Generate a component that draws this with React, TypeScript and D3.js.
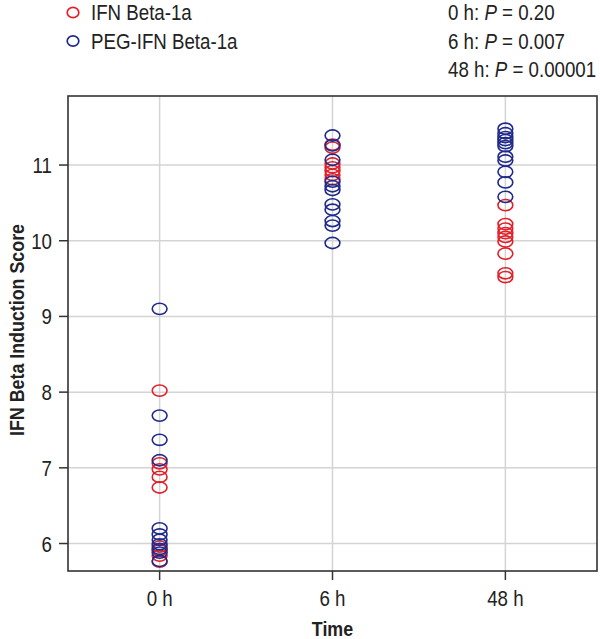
import React from "react";
import * as d3 from "d3";

const categories = ["0 h", "6 h", "48 h"];
const yTicks = [6, 7, 8, 9, 10, 11];

const ifn0 = [8.02, 7.06, 6.98, 6.88, 6.74, 5.96, 5.91, 5.84, 5.76];
const ifn6 = [11.27, 11.23, 11.02, 10.97, 10.92, 10.87, 10.81];
const ifn48 = [10.47, 10.22, 10.16, 10.1, 10.05, 9.99, 9.83, 9.57, 9.52];

const peg0 = [9.1, 7.69, 7.37, 7.1, 6.2, 6.12, 6.05, 5.99, 5.93, 5.88, 5.77];
const peg6 = [11.39, 11.26, 11.07, 10.78, 10.72, 10.67, 10.48, 10.41, 10.26, 10.2, 9.97];
const peg48 = [11.48, 11.42, 11.37, 11.33, 11.29, 11.25, 11.11, 11.06, 10.91, 10.77, 10.58];

const seriesNames = ["IFN Beta-1a", "PEG-IFN Beta-1a"];
const pLabels = [
  { t: "0 h: ", v: " = 0.20" },
  { t: "6 h: ", v: " = 0.007" },
  { t: "48 h: ", v: " = 0.00001" },
];

const RED = "#e2202a";
const BLUE = "#1f2a8a";
const FONT = "'Liberation Sans', Arial, sans-serif";
const SX = 0.85;

function T(props: {
  x: number; y: number; size: number; anchor?: string; bold?: boolean; rotate?: number; children: React.ReactNode;
}) {
  const { x, y, size, anchor = "start", bold = false, rotate = 0, children } = props;
  return (
    <text
      transform={`translate(${x},${y}) rotate(${rotate}) scale(${SX},1)`}
      textAnchor={anchor}
      fontSize={size}
      fontWeight={bold ? "bold" : "normal"}
      fill="#222"
    >
      {children}
    </text>
  );
}

export default function App() {
  const W = 600, H = 639;
  const left = 68, right = 597, top = 96, bottom = 571;
  const x = d3.scalePoint<string>().domain(categories).range([left, right]).padding(0.53);
  const y = d3.scaleLinear().domain([5.637, 11.912]).range([bottom, top]);

  const red = [ifn0, ifn6, ifn48];
  const blue = [peg0, peg6, peg48];
  const rx = 7.4, ry = 5.6;

  const pts = (arr: number[][], color: string) =>
    arr.flatMap((vals, i) =>
      vals.map((v, j) => (
        <ellipse key={color + i + "-" + j} cx={x(categories[i])} cy={y(v)} rx={rx} ry={ry}
          fill="none" stroke={color} strokeWidth={1.6} />
      ))
    );

  return (
    <svg width={W} height={H} style={{ position: "absolute", left: 0, top: 0, background: "#fff" }}
      fontFamily={FONT}>
      <rect x={0} y={0} width={W} height={H} fill="#fff" />
      {yTicks.map((t) => (
        <line key={"gy" + t} x1={left} x2={right} y1={y(t)} y2={y(t)} stroke="#d4d4d4" strokeWidth={1.5} />
      ))}
      {categories.map((c) => (
        <line key={"gx" + c} x1={x(c)} x2={x(c)} y1={top} y2={bottom} stroke="#d4d4d4" strokeWidth={1.5} />
      ))}
      {pts(red, RED)}
      {pts(blue, BLUE)}
      <rect x={left} y={top} width={right - left} height={bottom - top} fill="none" stroke="#333" strokeWidth={1.6} />
      {yTicks.map((t) => (
        <g key={"yt" + t}>
          <line x1={left - 9} x2={left} y1={y(t)} y2={y(t)} stroke="#333" strokeWidth={1.5} />
          <T x={52} y={y(t) + 8} size={22} anchor="end">{t}</T>
        </g>
      ))}
      {categories.map((c) => (
        <g key={"xt" + c}>
          <line x1={x(c)} x2={x(c)} y1={bottom} y2={bottom + 9} stroke="#333" strokeWidth={1.5} />
          <T x={x(c) as number} y={bottom + 35} size={22} anchor="middle">{c}</T>
        </g>
      ))}
      <T x={x("6 h") as number} y={636} size={21} anchor="middle" bold>Time</T>
      <T x={24} y={330} size={21} anchor="middle" bold rotate={-90}>IFN Beta Induction Score</T>
      {seriesNames.map((s, i) => (
        <g key={s}>
          <ellipse cx={73} cy={12.5 + i * 28.5} rx={5.8} ry={5.2} fill="none" stroke={i === 0 ? RED : BLUE} strokeWidth={1.7} />
          <T x={91} y={20 + i * 28.5} size={22}>{s}</T>
        </g>
      ))}
      {pLabels.map((p, i) => (
        <T key={"p" + i} x={448} y={20 + i * 28.5} size={22}>
          {p.t}<tspan fontStyle="italic">P</tspan>{p.v}
        </T>
      ))}
    </svg>
  );
}
